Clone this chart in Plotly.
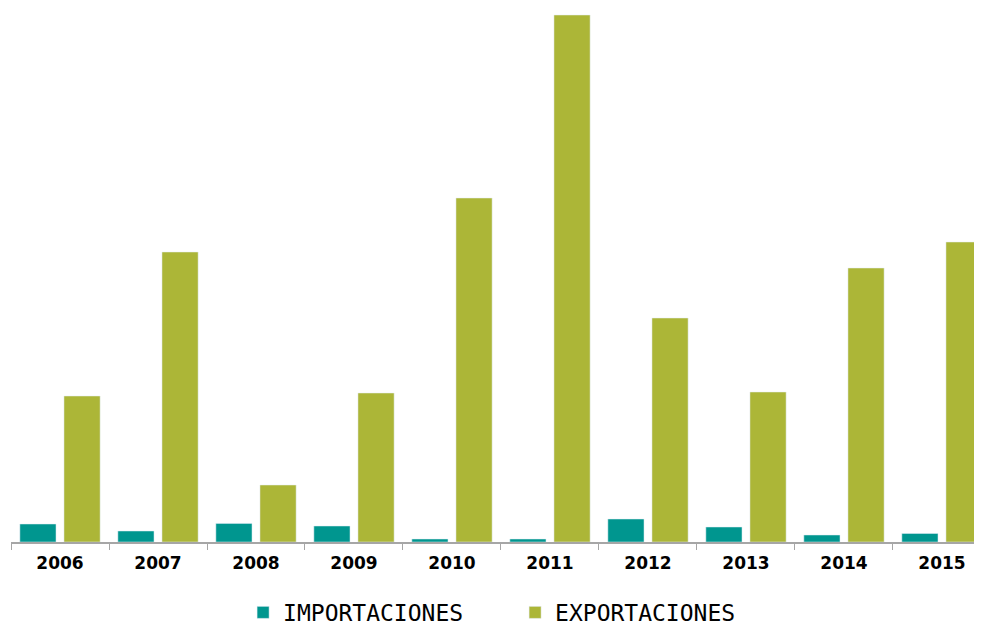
import plotly.graph_objects as go

years = ["2006", "2007", "2008", "2009", "2010", "2011", "2012", "2013", "2014", "2015"]
importaciones = [18, 11, 18.6, 16, 3, 3, 23, 15, 7, 8.5]
exportaciones = [146, 290, 57, 149, 344, 527, 224, 150, 274, 300]

teal = "#00968F"
olive = "#ACB637"

fig = go.Figure()
fig.add_trace(go.Bar(x=years, y=importaciones, name="IMPORTACIONES", marker_color=teal))
fig.add_trace(go.Bar(x=years, y=exportaciones, name="EXPORTACIONES", marker_color=olive))

fig.update_layout(
    width=982, height=627,
    margin=dict(l=3, r=0, t=2, b=93),
    paper_bgcolor="white", plot_bgcolor="white",
    barmode="group", bargap=0.1, bargroupgap=0.18,
    showlegend=True,
    legend=dict(orientation="h", xref="paper", x=0.5149, xanchor="center",
                yref="container", y=0.036, yanchor="middle",
                entrywidth=227, entrywidthmode="pixels",
                font=dict(family="DejaVu Sans Mono", size=23, color="black")),
    xaxis=dict(type="category", range=[-0.5, 9.49], showline=True, linecolor="#A6A6A6",
               linewidth=1.5, ticks="outside", tickson="boundaries", ticklen=6,
               tickcolor="#A6A6A6", tickwidth=1, showgrid=False, ticklabelstandoff=5,
               tickfont=dict(family="DejaVu Sans", size=17, color="black", weight="bold")),
    yaxis=dict(range=[0, 532], visible=False, showgrid=False, zeroline=False),
)

fig.write_html("out.html")
